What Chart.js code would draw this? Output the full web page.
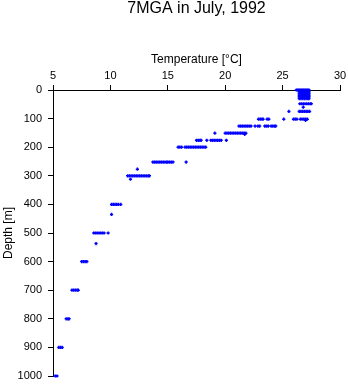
<!DOCTYPE html>
<html>
<head>
<meta charset="utf-8">
<script src="https://cdn.jsdelivr.net/npm/chart.js@4"></script>
<style>
  body { margin: 0; background: #fff; }
  canvas { display: block; }
</style>
</head>
<body>
<canvas id="profile" width="348" height="384"></canvas>
<script>
// depth levels [m] and the temperatures [°C] logged at each level
const depths = [0, 6, 12, 18, 24, 30, 48, 60, 75, 102, 106, 126, 151, 155, 176, 200, 252, 277, 300, 312, 400, 435, 500, 537, 600, 700, 800, 900, 1000];
const temps = [
    [26.2, 26.3, 26.4, 26.5, 26.6, 26.7, 26.8, 26.9, 27.0, 27.1, 27.2, 27.3],
    [26.45, 26.6, 26.75, 26.9, 27.05, 27.2, 27.3],
    [26.45, 26.6, 26.75, 26.9, 27.05, 27.2, 27.3],
    [26.45, 26.6, 26.75, 26.9, 27.05, 27.2, 27.3],
    [26.45, 26.6, 26.75, 26.9, 27.05, 27.2, 27.3],
    [26.45, 26.6, 26.75, 26.9, 27.05, 27.2, 27.3],
    [26.5, 26.65, 26.8, 26.95, 27.1, 27.25, 27.4, 27.5],
    [26.8],
    [25.55, 26.45, 26.6, 26.75, 26.9, 27.05, 27.2, 27.35],
    [22.9, 23.05, 23.2, 23.3, 23.65, 23.8, 25.1, 25.95, 26.1, 26.25, 26.55, 26.7, 26.85, 27.0, 27.15],
    [27.0],
    [21.2, 21.35, 21.5, 21.65, 21.8, 21.95, 22.1, 22.25, 22.6, 22.85, 23.0, 23.45, 23.6, 23.75, 24.0, 24.15, 24.3, 24.4],
    [19.1, 20.0, 20.15, 20.3, 20.45, 20.6, 20.75, 20.9, 21.05, 21.2, 21.35, 21.5, 21.65, 21.8],
    [21.7],
    [17.5, 17.65, 17.8, 17.9, 18.4, 18.75, 18.9, 19.05, 19.2, 19.35, 19.5, 19.65, 20.1],
    [15.9, 16.05, 16.2, 16.5, 16.65, 16.8, 16.95, 17.1, 17.25, 17.4, 17.55, 17.7, 17.85, 18.0, 18.15, 18.3],
    [13.7, 13.85, 14.0, 14.15, 14.3, 14.45, 14.6, 14.75, 14.9, 15.0, 15.15, 15.3, 15.45, 16.6],
    [12.35],
    [11.5, 11.65, 11.8, 11.95, 12.1, 12.25, 12.4, 12.55, 12.7, 12.85, 13.0, 13.15, 13.3, 13.4],
    [11.75],
    [10.1, 10.25, 10.4, 10.55, 10.7, 10.9],
    [10.1],
    [8.55, 8.7, 8.85, 9.0, 9.15, 9.3, 9.45, 9.8],
    [8.75],
    [7.5, 7.65, 7.8, 7.95],
    [6.65, 6.8, 6.95, 7.1, 7.2],
    [6.15, 6.3, 6.4],
    [5.5, 5.65, 5.8],
    [5.2, 5.35]
];

const FONT = '"Liberation Sans", Arial, Helvetica, sans-serif';

const points = [];
depths.forEach(function(d, i) {
    temps[i].forEach(function(t) {
        points.push({ x: t, y: d });
    });
});

// title centred over the plot area, not the whole canvas
const plotTitle = {
    id: 'plotTitle',
    afterDraw: function(chart) {
        const ctx = chart.ctx;
        const area = chart.chartArea;
        ctx.save();
        ctx.font = '16px ' + FONT;
        ctx.fillStyle = '#000';
        ctx.textAlign = 'center';
        ctx.textBaseline = 'middle';
        ctx.fillText('7MGA in July, 1992', (area.left + area.right) / 2, 9);
        ctx.restore();
    }
};

new Chart(document.getElementById('profile').getContext('2d'), {
    type: 'scatter',
    data: {
        datasets: [{
            data: points,
            pointStyle: 'cross',
            pointRadius: 1.6,
            pointBorderWidth: 1.5,
            borderColor: '#0000ff',
            backgroundColor: '#0000ff',
            clip: false
        }]
    },
    options: {
        responsive: false,
        animation: false,
        layout: { padding: { top: 50, right: 8, bottom: 8, left: 0 } },
        plugins: {
            legend: { display: false },
            tooltip: { enabled: false }
        },
        scales: {
            x: {
                position: 'top',
                min: 5,
                max: 30,
                afterFit: function(s) { s.height = 40; s.paddingLeft = 0; s.paddingRight = 0; },
                ticks: { stepSize: 5, color: '#000', padding: 2, maxRotation: 0, font: { family: FONT, size: 11 } },
                grid: { drawOnChartArea: false, tickLength: 5, color: '#000' },
                border: { display: true, color: '#000', width: 1 },
                title: { display: true, text: 'Temperature [°C]', color: '#000', padding: { top: 2 }, font: { family: FONT, size: 12 } }
            },
            y: {
                reverse: true,
                min: 0,
                max: 1000,
                afterFit: function(s) { s.width = 53; s.paddingTop = 0; s.paddingBottom = 0; },
                ticks: {
                    stepSize: 100, color: '#000', padding: 6, font: { family: FONT, size: 11 },
                    callback: function(v) { return String(v); }
                },
                grid: { drawOnChartArea: false, tickLength: 5, color: '#000' },
                border: { display: true, color: '#000', width: 1 },
                title: { display: true, text: 'Depth [m]', color: '#000', padding: { top: 1 }, font: { family: FONT, size: 12 } }
            }
        }
    },
    plugins: [plotTitle]
});
</script>
</body>
</html>
